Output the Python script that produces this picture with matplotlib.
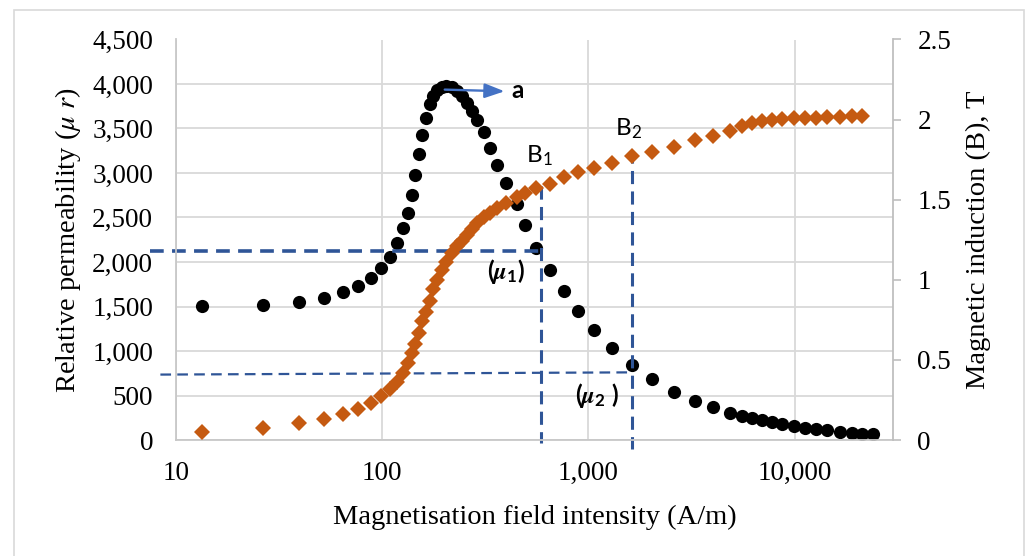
import matplotlib.pyplot as plt
from matplotlib.ticker import FuncFormatter, NullLocator
from matplotlib.patches import Rectangle

plt.rcParams['font.family'] = 'Liberation Serif'
plt.rcParams['mathtext.fontset'] = 'stix'

# field intensity H (A/m)
H = [13.4, 26.4, 39.4, 52.1, 64.4, 76.1, 88, 98.3, 108.7, 117.6, 125.7, 132.9,
     139, 143.6, 150.2, 155.4, 162.4, 169.8, 175.6, 183.6, 194, 205, 217, 229.6,
     242.7, 256.6, 271.2, 286.8, 310, 331.5, 358.4, 396.3, 448, 495, 559.5,
     654.5, 765.5, 894.4, 1069, 1306, 1633, 2042, 2609, 3296, 4027, 4870,
     5568, 6224, 6960, 7781, 8700, 9945, 11240, 12710, 14360, 16590, 18970,
     21220, 23990]

# relative permeability (left axis)
mu_r = [1507, 1519, 1552, 1597, 1665, 1732, 1822, 1935, 2059, 2216, 2385, 2554,
        2756, 2981, 3217, 3431, 3622, 3780, 3870, 3937, 3971, 3982, 3971, 3926,
        3870, 3791, 3701, 3600, 3465, 3285, 3094, 2891, 2655, 2419, 2160, 1912,
        1676, 1451, 1237, 1035, 844, 686, 540, 439, 371, 304, 270, 248, 225, 203,
        180, 158, 135, 124, 112, 90, 79, 68, 68]

# magnetic induction B in T (right axis), one point fewer at the end
B = [0.048, 0.073, 0.104, 0.131, 0.165, 0.196, 0.233, 0.275, 0.32, 0.36, 0.42,
     0.48, 0.54, 0.60, 0.67, 0.74, 0.80, 0.87, 0.94, 1.00, 1.06, 1.11, 1.17,
     1.21, 1.24, 1.28, 1.32, 1.355, 1.39, 1.42, 1.45, 1.48, 1.515, 1.54, 1.575,
     1.60, 1.64, 1.67, 1.70, 1.73, 1.77, 1.80, 1.83, 1.87, 1.90, 1.93, 1.96,
     1.98, 1.99, 2.00, 2.005, 2.01, 2.01, 2.01, 2.015, 2.015, 2.02, 2.02]

x_ticks = [10, 100, 1000, 10000]
y_ticks = list(range(0, 4501, 500))
b_ticks = [0, 0.5, 1, 1.5, 2, 2.5]

# guide lines drawn on the chart (H, mu_r)
mu1_line = ([7.5, 590], [2120, 2120])
mu2_line = ([8.4, 1628], [735, 760])
b1_line = ([590, 590], [2850, -34])
b2_line = ([1628, 1628], [3255, -100])

fig = plt.figure(figsize=(10.27, 5.56), dpi=100)
ax = fig.add_axes([176 / 1027, 116 / 556, 717 / 1027, 400.5 / 556])
ax2 = ax.twinx()

ax.set_xscale('log')
ax.set_xlim(10, 30000)
ax.set_ylim(0, 4500)
ax2.set_ylim(0, 2.5)

ax.plot(H, mu_r, 'o', color='black', ms=9.5, mew=0)
ax2.plot(H[:len(B)], B, 'D', color='#C55A11', ms=7.9, mew=0)

blue = '#2F5597'
ax.plot(*mu1_line, color=blue, lw=2.6, dashes=(3.8, 2.3), clip_on=False)
ax.plot(*mu2_line, color=blue, lw=1.6, dashes=(4.8, 2.8), clip_on=False)
ax.plot(*b1_line, color=blue, lw=2.2, dashes=(4.3, 2.4), clip_on=False)
ax.plot(*b2_line, color=blue, lw=2.2, dashes=(4.3, 2.4), clip_on=False)

ax.set_xticks(x_ticks)
ax.xaxis.set_minor_locator(NullLocator())
ax.set_yticks(y_ticks)
ax2.set_yticks(b_ticks)
ax.xaxis.set_major_formatter(FuncFormatter(lambda v, p: f'{v:,.0f}'))
ax.yaxis.set_major_formatter(FuncFormatter(lambda v, p: f'{v:,.0f}'))
ax2.yaxis.set_major_formatter(FuncFormatter(lambda v, p: f'{v:g}'))

ax.grid(True, color='#D9D9D9', lw=1.3)
ax.set_axisbelow(True)
for s in ['top', 'right']:
    ax.spines[s].set_visible(False)
for s in ['top', 'left', 'bottom']:
    ax2.spines[s].set_visible(False)
for s in ['left', 'bottom']:
    ax.spines[s].set_color('#C8C8C8')
    ax.spines[s].set_linewidth(1.3)
ax2.spines['right'].set_color('#BFBFBF')
ax2.spines['right'].set_linewidth(1.3)

ax.tick_params(axis='y', length=0, pad=16.5, labelsize=19.5)
ax.tick_params(axis='x', length=0, pad=15, labelsize=19.5)
ax2.tick_params(axis='y', length=6, width=1.2, color='#BFBFBF', pad=11.5, labelsize=19.5)

ax.set_xlabel('Magnetisation field intensity (A/m)', fontsize=20.5)
ax.xaxis.set_label_coords(0.5, -0.162)
ax.set_ylabel(r'Relative permeability ($\mu$ $r$)', fontsize=20.5)
ax.yaxis.set_label_coords(-0.13, 0.5)
ax2.set_ylabel('Magnetic induction (B), T', fontsize=20.5)
ax2.yaxis.set_label_coords(1.102, 0.5)

# annotations (placed in H / mu_r coordinates, drawn above both series)
lab = dict(family='Lato', fontsize=17.5, transform=ax.transData, ha='center', va='center')
ax2.annotate('', xy=(392, 3918), xytext=(201, 3937), xycoords=ax.transData,
             arrowprops=dict(arrowstyle='-|>,head_length=0.6,head_width=0.22',
                             color='#4472C4', lw=1.7, mutation_scale=20,
                             shrinkA=0, shrinkB=0))
ax2.text(455, 3930, 'a', fontweight='bold', **lab)
ax2.text(579, 3190, r'B$_\mathregular{1}$', **lab)
ax2.text(1562, 3495, r'B$_\mathregular{2}$', **lab)
ax2.text(401, 1890, r'($\boldsymbol{\mu}_\mathregular{1}$)', fontweight='bold', **lab)
ax2.text(1106, 500, r'($\boldsymbol{\mu}_\mathregular{2}$ )', fontweight='bold', **lab)

# chart area border
fig.add_artist(Rectangle((14 / 1027, -0.02), 1010 / 1027, 0.02 + 546.5 / 556,
                         transform=fig.transFigure, fill=False,
                         edgecolor='#D9D9D9', lw=1.2))

fig.savefig('out.png', dpi=100)
